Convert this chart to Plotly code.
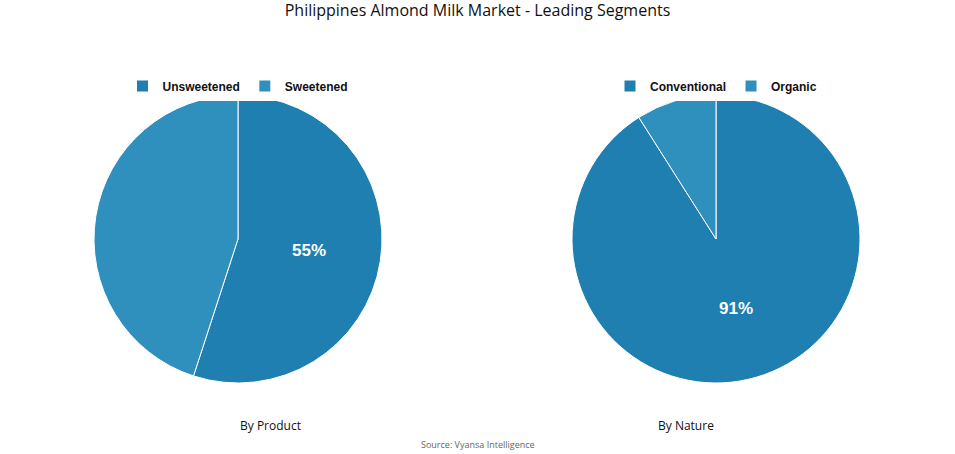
import plotly.graph_objects as go

product_labels = ["Unsweetened", "Sweetened"]
product_values = [55, 45]
nature_labels = ["Conventional", "Organic"]
nature_values = [91, 9]
colors = ["#1f7fb0", "#2f8fbd"]

fig = go.Figure()
H = 454.0
ydom = [1 - 383 / H, 1 - 95 / H]
pct_font = dict(family="Liberation Sans", size=17, color="white", weight="bold")
fig.add_trace(go.Pie(labels=product_labels, values=product_values, sort=False,
                     direction="clockwise", rotation=0,
                     marker=dict(colors=colors, line=dict(color="white", width=1)),
                     texttemplate=["%{percent:.0%}", ""], textposition="inside",
                     textfont=pct_font,
                     domain=dict(x=[94 / 955, 382 / 955], y=ydom),
                     legend="legend", hoverinfo="label+percent"))
fig.add_trace(go.Pie(labels=nature_labels, values=nature_values, sort=False,
                     direction="clockwise", rotation=0,
                     marker=dict(colors=colors, line=dict(color="white", width=1)),
                     texttemplate=["%{percent:.0%}", ""], textposition="inside",
                     textfont=pct_font,
                     domain=dict(x=[572 / 955, 860 / 955], y=ydom),
                     legend="legend2", hoverinfo="label+percent"))

legfont = dict(family="Liberation Sans", size=12, color="#111", weight="bold")
leg = dict(orientation="h", xanchor="center", y=1 - 86 / H, yanchor="middle",
           font=legfont, itemwidth=30, traceorder="normal")
fig.update_layout(
    width=955, height=454, margin=dict(l=0, r=0, t=0, b=0),
    paper_bgcolor="white", plot_bgcolor="white",
    title=dict(text="Philippines Almond Milk Market - Leading Segments",
               x=0.5, y=1 - 10 / H, xanchor="center", yanchor="middle",
               font=dict(family="Open Sans", size=16, color="#111", weight=500)),
    legend=dict(leg, x=238 / 955),
    legend2=dict(leg, x=716 / 955),
    annotations=[
        dict(text="By Product", x=238 / 955, y=1 - 425 / H, xref="paper", yref="paper",
             yanchor="middle", showarrow=False, font=dict(family="Open Sans", size=12, color="#111")),
        dict(text="By Nature", x=716 / 955, y=1 - 425 / H, xref="paper", yref="paper",
             yanchor="middle", showarrow=False, font=dict(family="Open Sans", size=12, color="#111")),
        dict(text="Source: Vyansa Intelligence", x=0.5, y=1 - 444 / H, xref="paper", yref="paper",
             yanchor="middle", showarrow=False, font=dict(family="Open Sans", size=9, color="#666")),
    ],
)
fig.write_html("out.html", config={"displayModeBar": False},
               post_script="document.body.style.margin='0';")
